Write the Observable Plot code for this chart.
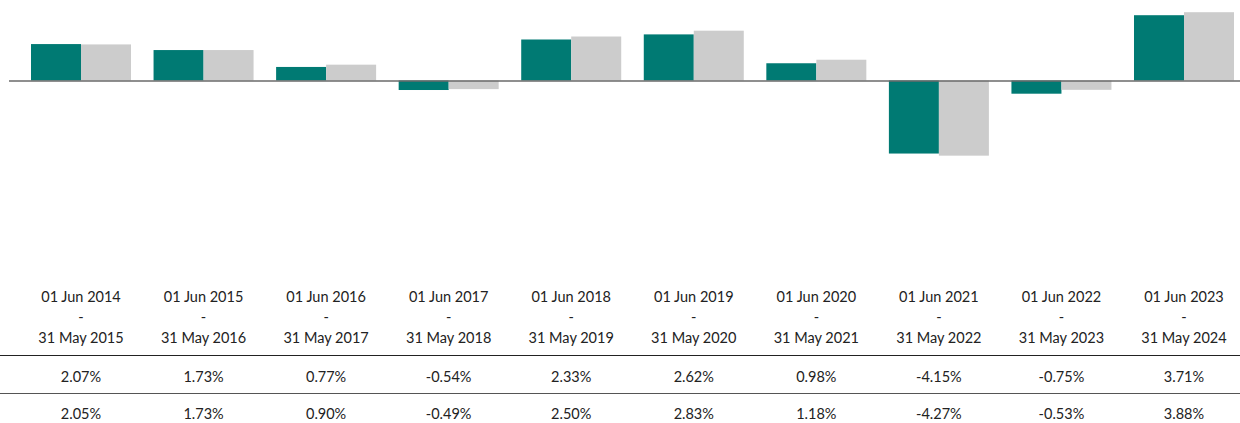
<!DOCTYPE html>
<html>
<head>
<meta charset="utf-8">
<script src="https://cdn.jsdelivr.net/npm/d3@7"></script>
<script src="https://cdn.jsdelivr.net/npm/@observablehq/plot@0.6"></script>
<style>
  html, body { margin: 0; padding: 0; background: #fff; }
  body { width: 1240px; height: 423px; overflow: hidden; font-family: Lato, "Noto Sans", sans-serif; color: #222; }
  #chart svg { display: block; }
  #table { position: relative; width: 1240px; height: 143px; font-size: 14.5px; }
  .cell { position: absolute; transform: translate(-50%, -50%); white-space: nowrap; line-height: 1; }
  .hline { position: absolute; left: 0; width: 1240px; height: 0; }
</style>
</head>
<body>
<div id="chart"></div>
<div id="table"></div>
<script>
const periodStart = ["01 Jun 2014","01 Jun 2015","01 Jun 2016","01 Jun 2017","01 Jun 2018","01 Jun 2019","01 Jun 2020","01 Jun 2021","01 Jun 2022","01 Jun 2023"];
const periodEnd = ["31 May 2015","31 May 2016","31 May 2017","31 May 2018","31 May 2019","31 May 2020","31 May 2021","31 May 2022","31 May 2023","31 May 2024"];
const fundReturns = [2.07, 1.73, 0.77, -0.54, 2.33, 2.62, 0.98, -4.15, -0.75, 3.71];
const benchmarkReturns = [2.05, 1.73, 0.90, -0.49, 2.50, 2.83, 1.18, -4.27, -0.53, 3.88];

const rows = periodStart.map((p, i) => ({period: p, end: periodEnd[i], fund: fundReturns[i], bench: benchmarkReturns[i]}));

const chart = Plot.plot({
  width: 1240,
  height: 280,
  marginTop: 0,
  marginBottom: 0,
  marginLeft: 9,
  marginRight: 0,
  x: {domain: periodStart, range: [31, 1234], paddingInner: 0.184, paddingOuter: 0, round: false, axis: null},
  y: {domain: [-11.335, 4.574], axis: null},
  marks: [
    Plot.barY(rows, {x: "period", y: "fund", fill: "#007A73", insetLeft: 0, insetRight: 50}),
    Plot.barY(rows, {x: "period", y: "bench", fill: "#CCCCCC", insetLeft: 50, insetRight: 0}),
    Plot.ruleY([0], {stroke: "#6a6a6a", strokeWidth: 1.5})
  ]
});
document.getElementById("chart").appendChild(chart);

// table positioned with the chart's x scale
const xs = chart.scale("x");
let center;
if (xs && typeof xs.apply === "function") {
  center = d => xs.apply(d) + xs.bandwidth / 2;
} else {
  const b = d3.scaleBand(periodStart, [31, 1234]).paddingInner(0.184).paddingOuter(0);
  center = d => b(d) + b.bandwidth() / 2;
}
const fmt = v => v.toFixed(2) + "%";
const table = document.getElementById("table");
function addCell(text, x, y) {
  const el = document.createElement("div");
  el.className = "cell";
  el.textContent = text;
  el.style.left = x + "px";
  el.style.top = y + "px";
  table.appendChild(el);
}
function addLine(y, color) {
  const el = document.createElement("div");
  el.className = "hline";
  el.style.top = y + "px";
  el.style.borderTop = "1.5px solid " + color;
  table.appendChild(el);
}
rows.forEach(r => {
  const cx = center(r.period);
  addCell(r.period, cx, 16.5);
  addCell("-", cx, 37);
  addCell(r.end, cx, 57.5);
  addCell(fmt(r.fund), cx, 97);
  addCell(fmt(r.bench), cx, 134);
});
addLine(75, "#222");
addLine(112.5, "#555");
</script>
</body>
</html>
